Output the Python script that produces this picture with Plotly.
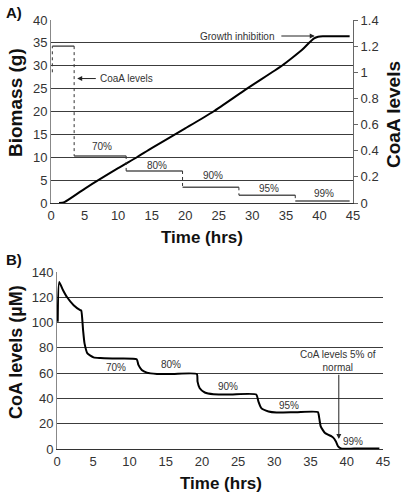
import plotly.graph_objects as go

# ---------------- Data ----------------
# Panel A: biomass growth curve (left axis, g)
biomass_time = [1.2, 2.0, 5.0, 10.0, 12.8, 15.0, 20.0, 24.2, 29.2, 34.4, 36.0, 37.5, 38.5, 39.2, 39.8, 40.5, 44.5]
biomass_g = [0.0, 0.2, 3.1, 7.6, 10.0, 12.0, 16.3, 20.0, 25.0, 30.0, 31.8, 33.6, 35.1, 36.0, 36.35, 36.45, 36.45]

# Panel A: CoaA levels step profile (right axis)
coaA_start_level = 1.0
coaA_step_time = [0.2, 3.45, 11.2, 19.6, 28.0, 36.4, 44.5]
coaA_step_level = [1.2, 0.36, 0.245, 0.12, 0.06, 0.016]
coaA_step_labels = ["70%", "80%", "90%", "95%", "99%"]
coaA_label_time = [7.55, 15.8, 24.2, 32.5, 40.7]
coaA_label_biomass = [12.3, 8.3, 6.0, 3.1, 2.0]

# Panel B: CoA levels (µM)
coa_time = [0.1, 0.3, 0.8, 1.4, 2.3, 3.2, 3.35, 3.6, 3.8, 4.2, 5.05, 6.0, 8.0, 11.0, 11.24, 11.7, 12.4, 13.8, 16.0, 19.3,
            19.4, 19.7, 20.4, 21.6, 24.0, 27.5, 27.8, 28.2, 29.2, 30.3, 33.0, 36.0, 36.2, 36.4, 37.0, 37.9, 38.1,
            38.5, 38.8, 39.3, 41.0, 44.5]
coa_uM = [100.6, 132.0, 126.0, 120.0, 113.7, 109.8, 109.5, 94.0, 83.5, 75.6, 72.5, 72.0, 71.6, 71.0, 66.5, 62.5, 60.4,
          59.4, 59.4, 59.3, 53.3, 48.0, 44.7, 43.3, 43.2, 43.1, 37.6, 32.3, 29.7, 28.9, 29.1, 29.2, 24.4, 17.9, 12.6,
          10.0, 9.2, 6.0, 2.1, 0.3, 0.3, 0.3]
coa_label_text = ["70%", "80%", "90%", "95%", "99%"]
coa_label_time = [8.2, 15.7, 23.6, 32.0, 40.9]
coa_label_uM = [64.6, 66.5, 49.4, 34.1, 6.0]

# ---------------- Figure ----------------
FONT = "Liberation Sans, Arial, sans-serif"
W, H = 405, 498
fig = go.Figure()

# CoaA step: horizontal (solid) and vertical (dotted) segments
hx, hy, vx, vy = [], [], [], []
for i, lev in enumerate(coaA_step_level):
    hx += [coaA_step_time[i], coaA_step_time[i + 1], None]
    hy += [lev, lev, None]
vx += [coaA_step_time[0], coaA_step_time[0], None]
vy += [coaA_start_level, coaA_step_level[0], None]
for i in range(1, len(coaA_step_level)):
    vx += [coaA_step_time[i], coaA_step_time[i], None]
    vy += [coaA_step_level[i - 1], coaA_step_level[i], None]

fig.add_trace(go.Scatter(x=hx, y=hy, mode="lines", xaxis="x", yaxis="y2",
                         line=dict(color="#555555", width=1.5), showlegend=False, hoverinfo="skip"))
fig.add_trace(go.Scatter(x=vx, y=vy, mode="lines", xaxis="x", yaxis="y2",
                         line=dict(color="#333333", width=1, dash="dot"), showlegend=False, hoverinfo="skip"))
fig.add_trace(go.Scatter(x=biomass_time, y=biomass_g, mode="lines", xaxis="x", yaxis="y",
                         line=dict(color="black", width=2, shape="spline", smoothing=0.6), showlegend=False))
fig.add_trace(go.Scatter(x=coa_time, y=coa_uM, mode="lines", xaxis="x3", yaxis="y3",
                         line=dict(color="black", width=2, shape="spline", smoothing=0.5), showlegend=False))

grid = "#3c3c3c"
tickfont = dict(family=FONT, size=13, color="#333333")

fig.update_layout(
    template="none",
    width=W, height=H,
    margin=dict(l=0, r=0, t=0, b=0, pad=0),
    showlegend=False,
    paper_bgcolor="white", plot_bgcolor="white",
    font=dict(family=FONT, color="#222222"),
    xaxis=dict(domain=[51 / W, 353 / W], anchor="y", range=[0, 45], dtick=5, tick0=0, automargin=False,
               showgrid=False, zeroline=False, showline=True, linecolor="#333333", linewidth=1,
               ticks="", tickfont=tickfont),
    yaxis=dict(domain=[1 - 203 / H, 1 - 20 / H], anchor="x", range=[0, 40], dtick=5, automargin=False,
               showgrid=True, gridcolor=grid, gridwidth=1, zeroline=False,
               showline=True, linecolor="#888888", linewidth=1, ticks="", tickfont=tickfont),
    yaxis2=dict(overlaying="y", side="right", anchor="x", range=[0, 1.4], automargin=False,
                tickvals=[0, 0.2, 0.4, 0.6, 0.8, 1.0, 1.2, 1.4],
                ticktext=["0", "0.2", "0.4", "0.6", "0.8", "1", "1.2", "1.4"],
                showgrid=False, zeroline=False, showline=True, linecolor="#666666", linewidth=1,
                ticks="outside", ticklen=4, tickcolor="#666666", tickfont=tickfont),
    xaxis3=dict(domain=[57 / W, 383 / W], anchor="y3", range=[0, 45], dtick=5, tick0=0, automargin=False,
                showgrid=False, zeroline=False, showline=True, linecolor="#333333", linewidth=1,
                ticks="", tickfont=tickfont),
    yaxis3=dict(domain=[1 - 449 / H, 1 - 272 / H], anchor="x3", range=[0, 140], dtick=20, automargin=False,
                showgrid=True, gridcolor=grid, gridwidth=1, zeroline=False,
                showline=True, linecolor="#888888", linewidth=1, ticks="", tickfont=tickfont),
)

ann = []
def px(x, y, text, size, bold=False, xanchor="center", yanchor="middle", angle=0, color="#111111"):
    ann.append(dict(xref="paper", yref="paper", x=x / W, y=1 - y / H, text=f"<b>{text}</b>" if bold else text,
                    showarrow=False, xanchor=xanchor, yanchor=yanchor, textangle=angle,
                    font=dict(family=FONT, size=size, color=color)))

# Panel labels and axis titles
px(4, 13, "A)", 15, bold=True, xanchor="left")
px(4, 259, "B)", 15, bold=True, xanchor="left")
px(202, 238, "Time (hrs)", 17, bold=True)
px(221, 483, "Time (hrs)", 17, bold=True)
px(15, 103, "Biomass (g)", 19, bold=True, angle=-90)
px(394, 115, "CoaA levels", 19, bold=True, angle=-90)
px(16, 352, "CoA levels (µM)", 18, bold=True, angle=-90)

small = dict(family=FONT, size=10, color="#333333")
for t, xx, yy in zip(coaA_step_labels, coaA_label_time, coaA_label_biomass):
    ann.append(dict(xref="x", yref="y", x=xx, y=yy, text=t, showarrow=False, font=small))
for t, xx, yy in zip(coa_label_text, coa_label_time, coa_label_uM):
    ann.append(dict(xref="x3", yref="y3", x=xx, y=yy, text=t, showarrow=False, font=small))

# Arrows and notes
ann.append(dict(xref="x", yref="y", x=3.9, y=27.2, ax=6.9, ay=27.2, axref="x", ayref="y", text="",
                showarrow=True, arrowhead=2, arrowsize=1, arrowwidth=1, arrowcolor="#222222"))
ann.append(dict(xref="x", yref="y", x=7.0, y=27.2, text="CoaA levels", showarrow=False,
                xanchor="left", font=small))
ann.append(dict(xref="x", yref="y", x=39.3, y=36.5, ax=34.1, ay=36.5, axref="x", ayref="y", text="",
                showarrow=True, arrowhead=2, arrowsize=1, arrowwidth=1, arrowcolor="#222222"))
ann.append(dict(xref="x", yref="y", x=33.6, y=36.5, text="Growth inhibition", showarrow=False,
                xanchor="right", font=small))
ann.append(dict(xref="x3", yref="y3", x=38.9, y=7.9, ax=38.9, ay=59.9, axref="x3", ayref="y3", text="",
                showarrow=True, arrowhead=2, arrowsize=1, arrowwidth=1, arrowcolor="#222222"))
ann.append(dict(xref="x3", yref="y3", x=38.8, y=70.0, text="CoA levels 5% of<br>normal", showarrow=False,
                font=small))

fig.update_layout(annotations=ann)
fig.write_html("out.html", config={"displayModeBar": False},
               post_script="document.body.style.margin='0px';document.body.style.padding='0px';")
